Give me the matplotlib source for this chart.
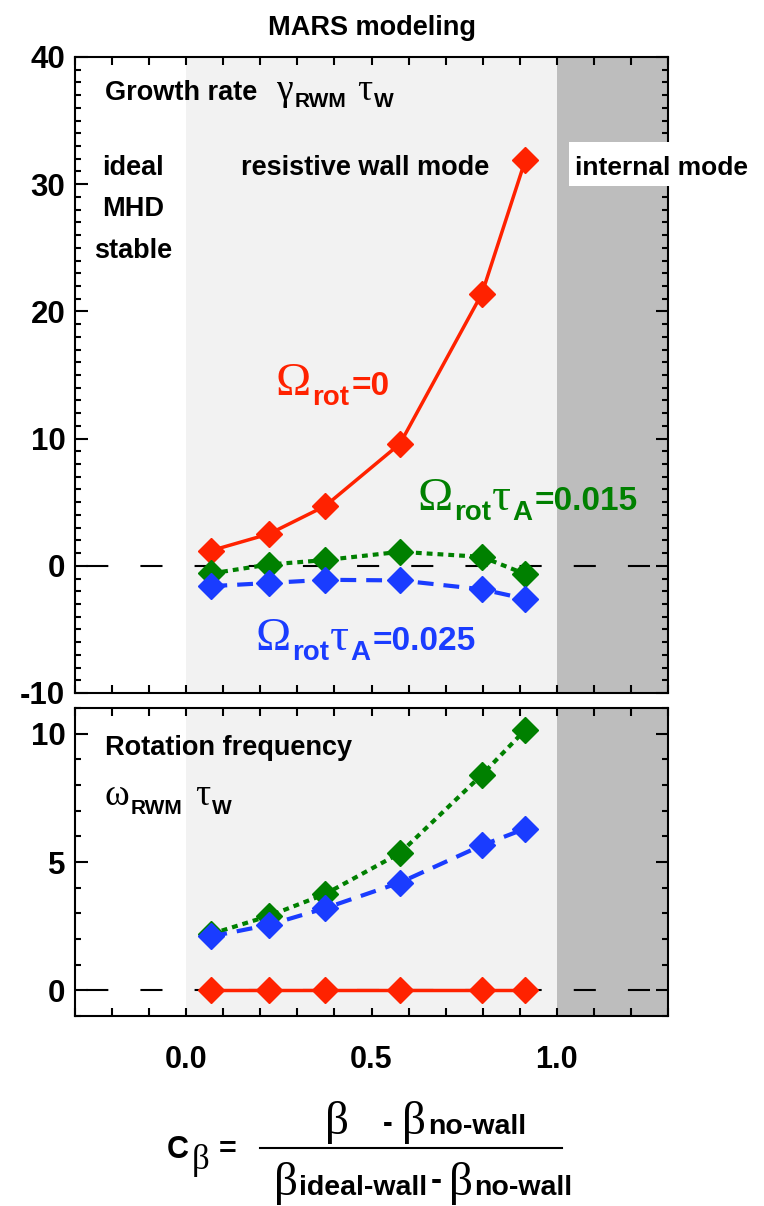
import numpy as np
import matplotlib
matplotlib.use('Agg')
import matplotlib.pyplot as plt
from matplotlib.ticker import MultipleLocator, FixedLocator
from matplotlib.patches import Rectangle
from matplotlib.lines import Line2D
from matplotlib.transforms import Affine2D

# C_beta positions of the MARS runs
cb = [0.068, 0.223, 0.375, 0.577, 0.798, 0.915]

# growth rate gamma_RWM * tau_w
growth_rot0 = [1.2, 2.5, 4.7, 9.6, 21.4, 31.9]
growth_015 = [-0.6, 0.1, 0.45, 1.1, 0.7, -0.65]
growth_025 = [-1.6, -1.35, -1.1, -1.15, -1.85, -2.6]

# rotation frequency omega_RWM * tau_w
freq_rot0 = [0, 0, 0, 0, 0, 0]
freq_015 = [2.2, 2.9, 3.75, 5.35, 8.4, 10.15]
freq_025 = [2.1, 2.55, 3.2, 4.2, 5.65, 6.3]

xticks = [0.0, 0.5, 1.0]
xticklabels = ['0.0', '0.5', '1.0']

RED = '#ff2200'
GREEN = '#008000'
BLUE = '#1a3cff'
SERIF = 'Liberation Serif'
SANS = ['Liberation Sans', 'DejaVu Sans']

plt.rcParams['font.family'] = SANS
plt.rcParams['font.weight'] = 'bold'
plt.rcParams['axes.unicode_minus'] = False

W, H = 764, 1206
fig = plt.figure(figsize=(W / 100, H / 100), dpi=100)
renderer = fig.canvas.get_renderer()
# pixel coordinates, origin top-left, for the annotation text
pix = Affine2D().scale(1 / W, -1 / H).translate(0, 1) + fig.transFigure

def ptext(x, y, s, size, color='black', serif=False, **kw):
    return fig.text(x, y, s, transform=pix, fontsize=size, color=color,
                    family=SERIF if serif else SANS,
                    fontweight='normal' if serif else 'bold',
                    ha=kw.pop('ha', 'left'), va='baseline', **kw)

def flow(x, y, pieces, color='black'):
    # pieces: (text, size, serif, baseline shift, gap after)
    for s, size, serif, dy, gap in pieces:
        t = ptext(x, y + dy, s, size, color, serif)
        x += t.get_window_extent(renderer).width + gap

ax1 = fig.add_axes([75 / W, 1 - 693 / H, (668 - 75) / W, (693 - 57) / H])
ax2 = fig.add_axes([75 / W, 1 - 1016 / H, (668 - 75) / W, (1016 - 708) / H])

def style_axis(ax, ymajor, yminor):
    ax.set_xlim(-0.3, 1.3)
    ax.axvspan(0.0, 1.0, color='#f2f2f2', zorder=0, lw=0)
    ax.axvspan(1.0, 1.3, color='#bdbdbd', zorder=0, lw=0)
    ax.axhline(0, color='black', lw=1.5, linestyle=(20.6, (10.6, 15.4)), zorder=1)
    ax.xaxis.set_major_locator(FixedLocator(xticks))
    ax.xaxis.set_minor_locator(MultipleLocator(0.1))
    ax.yaxis.set_major_locator(MultipleLocator(ymajor))
    ax.yaxis.set_minor_locator(MultipleLocator(yminor))
    ax.tick_params(axis='both', which='both', direction='in', top=True, right=True, width=1.5)
    ax.tick_params(axis='x', which='both', length=5.5, pad=21)
    ax.tick_params(axis='y', which='major', length=9, pad=7, labelsize=22.5)
    ax.tick_params(axis='y', which='minor', length=4.5)
    ax.tick_params(axis='x', labelsize=22)
    for s in ax.spines.values():
        s.set_linewidth(1.5)
        s.set_zorder(5)

def draw_series(ax, red, green, blue):
    ax.plot(cb, red, color=RED, lw=2.5, marker='D', ms=13, mew=1, zorder=3)
    ax.plot(cb, green, color=GREEN, lw=3, dashes=(1.4, 1.2), marker='D', ms=13, mew=1, zorder=3)
    ax.plot(cb, blue, color=BLUE, lw=3, dashes=(3.8, 2.4), marker='D', ms=13, mew=1, zorder=3)

# top panel: growth rate
style_axis(ax1, 10, 1)
ax1.set_ylim(-10, 40)
draw_series(ax1, growth_rot0, growth_015, growth_025)
ax1.set_xticklabels([])

# bottom panel: rotation frequency
style_axis(ax2, 5, 1)
ax2.set_ylim(-1, 11)
draw_series(ax2, freq_rot0, freq_015, freq_025)
ax2.set_xticklabels(xticklabels)

# titles and region labels
ptext(371.5, 35, 'MARS modeling', 19.5, ha='center')
flow(105, 100, [('Growth rate', 19.5, False, 0, 19),
                ('γ', 27, True, 0, 2),
                ('RWM', 15, False, 7, 11),
                ('τ', 27, True, 0, 1),
                ('W', 15, False, 7, 0)])

ptext(133, 175, 'ideal', 19.5, ha='center')
ptext(133, 216, 'MHD', 19.5, ha='center')
ptext(133, 258, 'stable', 19.5, ha='center')
ptext(365, 175, 'resistive wall mode', 19.5, ha='center')

fig.add_artist(Rectangle((569 / W, 1 - 186 / H), (W - 569) / W, 44 / H,
                         transform=fig.transFigure, facecolor='white', edgecolor='none', zorder=6))
ptext(575, 175, 'internal mode', 19, zorder=7)

# rotation labels
flow(275, 395, [('Ω', 34, True, 0, 2), ('rot', 20, False, 10, 2), ('=0', 24, False, 0, 0)], RED)
for x0, y0, col, lab in [(417, 510, GREEN, '=0.015'), (255, 650, BLUE, '=0.025')]:
    flow(x0, y0, [('Ω', 34, True, 0, 2), ('rot', 20, False, 10, 1),
                  ('τ', 34, True, 0, 1), ('A', 20, False, 10, 2), (lab, 24, False, 0, 0)], col)

ptext(105, 755, 'Rotation frequency', 19.5)
flow(104, 805, [('ω', 27, True, 0, 2),
                ('RWM', 15, False, 9, 13),
                ('τ', 27, True, 0, 1),
                ('W', 15, False, 9, 0)])

# C_beta definition below the x axis
flow(167, 1158, [('C', 22, False, 0, 3), ('β', 25, True, 11, 9), ('=', 22, False, 0, 0)])

flow(325, 1134, [('β', 34, True, 0, 34), ('-', 21, False, -2, 9),
                 ('β', 34, True, 0, 3), ('no-wall', 20.5, False, 0, 0)])

fig.add_artist(Line2D([260 / W, 562 / W], [1 - 1148 / H, 1 - 1148 / H], color='black', lw=1.5,
                      transform=fig.transFigure))

flow(274, 1195, [('β', 34, True, 0, 1), ('ideal-wall', 20.5, False, 0, 4),
                 ('-', 24, False, -5, 7), ('β', 34, True, 0, 1), ('no-wall', 20.5, False, 0, 0)])

fig.savefig('out.png', dpi=100, facecolor='white')
